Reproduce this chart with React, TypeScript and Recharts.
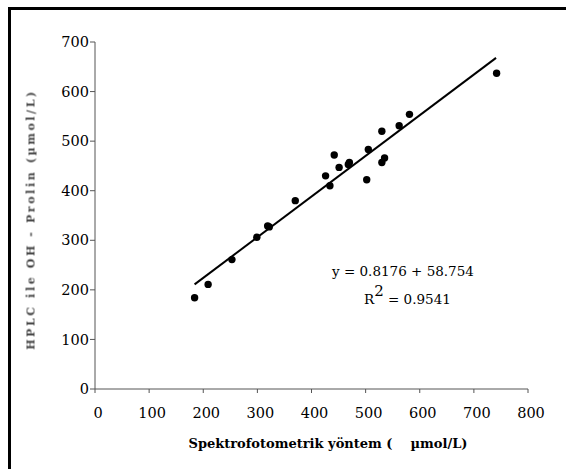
import React from 'react';
import { ScatterChart, Scatter, XAxis, YAxis, ReferenceLine } from 'recharts';

// measured values (Spektrofotometrik x, HPLC y)
const xValues = [184, 209, 253, 299, 319, 322, 370, 426, 434, 442, 451, 468, 470, 502, 505, 530, 530, 535, 562, 581, 742];
const yValues = [184, 211, 261, 306, 329, 327, 380, 430, 410, 472, 447, 453, 457, 422, 483, 520, 457, 466, 531, 554, 637];
const xTicks = [0, 100, 200, 300, 400, 500, 600, 700, 800];
const yTicks = [0, 100, 200, 300, 400, 500, 600, 700];
const trendStart = { x: 184, y: 211 };
const trendEnd = { x: 741, y: 668 };

const points = xValues.map((x, i) => ({ x, y: yValues[i] }));

const serif = '"DejaVu Serif", serif';

const Dot = (props: any) => <circle cx={props.cx} cy={props.cy} r={3.7} fill="#000" />;

const App = () => {
  return (
    <div style={{ position: 'absolute', left: 0, top: 0, width: 566, height: 469, background: '#fff', overflow: 'hidden' }}>
      <div
        style={{
          position: 'absolute', left: 8, top: 7, right: 0, bottom: 0,
          borderLeft: '3px solid #000', borderTop: '3px solid #000',
        }}
      />
      <ScatterChart width={566} height={469} margin={{ top: 42, right: 38, left: 0, bottom: 50 }}>
        <XAxis
          type="number"
          dataKey="x"
          domain={[0, 800]}
          ticks={xTicks}
          height={30}
          tickSize={4}
          tickMargin={15}
          stroke="#555"
          tick={{ fill: '#000', fontSize: 14.5, fontFamily: serif, dx: 3 }}
        />
        <YAxis
          type="number"
          dataKey="y"
          domain={[0, 700]}
          ticks={yTicks}
          width={95}
          tickSize={5}
          tickMargin={1}
          stroke="#555"
          tick={{ fill: '#000', fontSize: 14.5, fontFamily: serif }}
        />
        <ReferenceLine segment={[trendStart, trendEnd]} stroke="#000" strokeWidth={2} />
        <Scatter data={points} fill="#000" shape={Dot} isAnimationActive={false} />
      </ScatterChart>
      <div style={{ position: 'absolute', left: 332, top: 263, fontFamily: serif, fontSize: 13.5, color: '#000', whiteSpace: 'nowrap' }}>
        y = 0.8176 + 58.754
      </div>
      <div style={{ position: 'absolute', left: 364, top: 291, fontFamily: serif, fontSize: 13.5, color: '#000', whiteSpace: 'nowrap' }}>
        R<sup style={{ fontSize: 15, verticalAlign: 'top', position: 'relative', top: -9 }}>2</sup> = 0.9541
      </div>
      <div style={{ position: 'absolute', left: 170, top: 436, width: 316, textAlign: 'center', fontFamily: serif, fontSize: 13, fontWeight: 'bold', color: '#000', whiteSpace: 'pre' }}>
        {'Spektrofotometrik yöntem (    µmol/L)'}
      </div>
      <div
        style={{
          position: 'absolute', left: 31, top: 220, width: 0, height: 0,
        }}
      >
        <div
          style={{
            position: 'absolute', left: -150, top: -7, width: 300, textAlign: 'center',
            transform: 'rotate(-90deg)', fontFamily: serif, fontSize: 11, fontWeight: 'bold',
            letterSpacing: 2.6, color: '#444', whiteSpace: 'nowrap', filter: 'blur(0.4px)',
          }}
        >
          HPLC ile OH - Prolin (µmol/L)
        </div>
      </div>
    </div>
  );
};

export default App;
